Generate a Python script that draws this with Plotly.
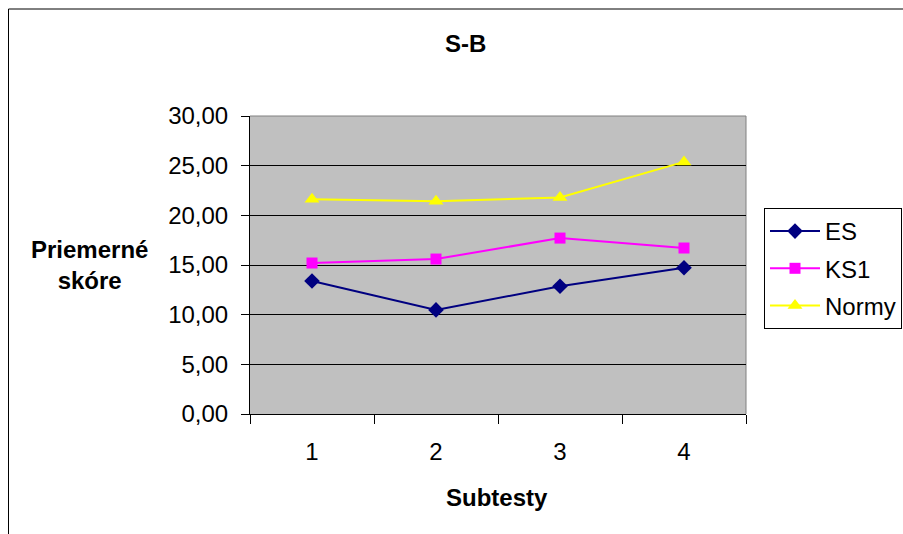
import plotly.graph_objects as go

# Subtest categories and mean scores per group
subtests = ["1", "2", "3", "4"]
es_scores = [13.39, 10.48, 12.86, 14.73]
ks1_scores = [15.20, 15.60, 17.71, 16.71]
norm_scores = [21.63, 21.43, 21.80, 25.38]

FONT = "Liberation Sans, Arial, sans-serif"

fig = go.Figure()
fig.add_trace(go.Scatter(
    x=subtests, y=es_scores, name="ES", mode="lines+markers",
    legendgroup="es",
    line=dict(color="#000080", width=2),
    marker=dict(symbol="diamond", size=12, color="#000080"),
))
fig.add_trace(go.Scatter(
    x=subtests, y=ks1_scores, name="KS1", mode="lines+markers",
    legendgroup="ks1",
    line=dict(color="#FF00FF", width=2),
    marker=dict(symbol="square", size=11, color="#FF00FF"),
))
fig.add_trace(go.Scatter(
    x=subtests, y=norm_scores, name="Normy", mode="lines+markers",
    legendgroup="norm",
    line=dict(color="#FFFF00", width=2),
    marker=dict(symbol="triangle-up", size=13, color="#FFFF00"),
))

L, R, T, B = 250, 157, 116, 120
W, H = 903, 534
pw, ph = W - L - R, H - T - B


def px_x(x):
    return (x - L) / pw


def px_y(y):
    return (H - B - y) / ph


fig.update_layout(
    width=W, height=H,
    margin=dict(l=L, r=R, t=T, b=B, pad=0, autoexpand=False),
    paper_bgcolor="white",
    plot_bgcolor="#C0C0C0",
    separators=",.",
    font=dict(family=FONT, size=24, color="black"),
    showlegend=True,
    legend=dict(
        x=px_x(764), y=px_y(208), xanchor="left", yanchor="top",
        bordercolor="black", borderwidth=1, bgcolor="white",
        font=dict(family=FONT, size=24, color="black"),
        itemwidth=50, tracegroupgap=3,
    ),
    xaxis=dict(
        type="category", tickson="boundaries", range=[-0.5, 3.5],
        ticks="outside", ticklen=9, tickcolor="black", tickwidth=1,
        showline=True, linecolor="black", linewidth=1,
        showgrid=False, tickfont=dict(size=24),
        ticklabelstandoff=16,
    ),
    yaxis=dict(
        range=[0, 30], dtick=5, tickformat=".2f",
        ticks="outside", ticklen=8, tickcolor="black", tickwidth=1,
        showline=True, linecolor="black", linewidth=1,
        showgrid=True, gridcolor="black", gridwidth=1,
        zeroline=False, tickfont=dict(size=24),
        ticklabelstandoff=8,
    ),
    shapes=[
        # chart frame
        dict(type="rect", xref="paper", yref="paper",
             x0=px_x(8.5), x1=px_x(912), y0=px_y(545), y1=px_y(9),
             line=dict(color="black", width=1), fillcolor="rgba(0,0,0,0)",
             layer="below"),
        # plot area top/right border
        dict(type="line", xref="paper", yref="paper",
             x0=0, x1=1, y0=1, y1=1,
             line=dict(color="#808080", width=1), layer="above"),
        dict(type="line", xref="paper", yref="paper",
             x0=1, x1=1, y0=0, y1=1,
             line=dict(color="#808080", width=1), layer="below"),
    ],
    annotations=[
        dict(text="<b>S-B</b>", xref="paper", yref="paper",
             x=px_x(465), y=px_y(44), showarrow=False,
             xanchor="center", yanchor="middle", font=dict(size=24)),
        dict(text="<b>Subtesty</b>", xref="paper", yref="paper",
             x=px_x(497), y=px_y(497), showarrow=False,
             xanchor="center", yanchor="middle", font=dict(size=24)),
        dict(text="<b>Priemerné<br>skóre</b>", xref="paper", yref="paper",
             x=px_x(89), y=px_y(265), showarrow=False,
             xanchor="center", yanchor="middle", align="center",
             font=dict(size=24)),
    ],
)

fig.write_html("out.html")
